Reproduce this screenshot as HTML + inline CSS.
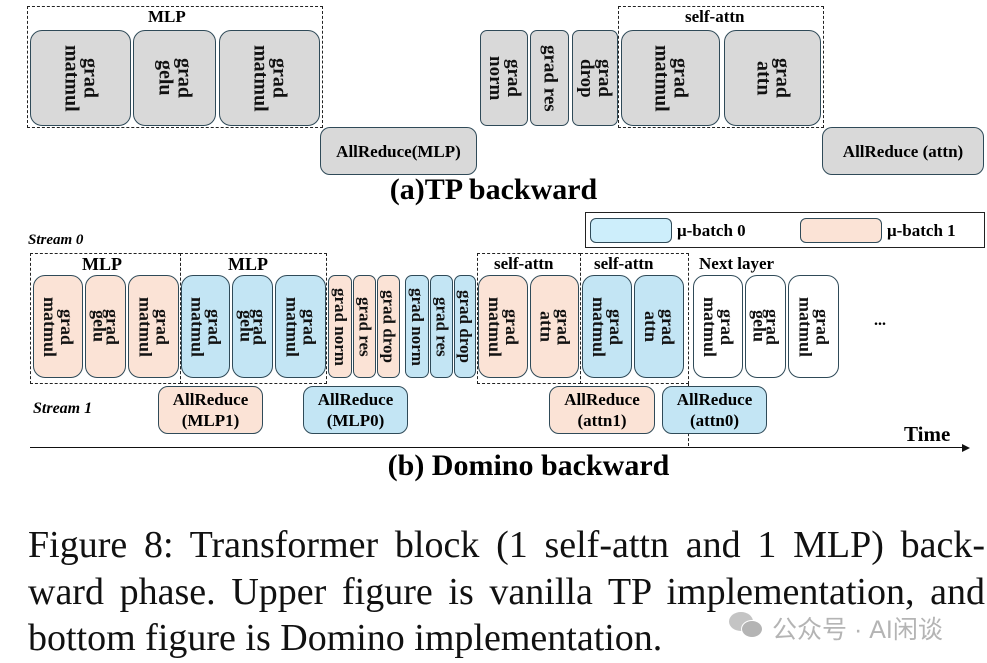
<!DOCTYPE html>
<html><head><meta charset="utf-8"><style>
body{margin:0;width:987px;height:663px;background:#fff;position:relative;overflow:hidden;font-family:"Liberation Serif",serif;}
.b{position:absolute;box-sizing:border-box;border:1.5px solid #2f4a58;border-radius:12px;writing-mode:vertical-rl;display:flex;align-items:center;justify-content:center;text-align:center;font-weight:bold;font-size:20px;line-height:19px;color:#111;}
.s{border-radius:7px;font-size:17px;line-height:16px;}
.h{position:absolute;box-sizing:border-box;border:1.5px solid #2f4a58;border-radius:10px;display:flex;align-items:center;justify-content:center;text-align:center;font-weight:bold;font-size:17px;line-height:21px;}
.g{background:#d9d9d9}.p{background:#fbe3d6}.c{background:#c3e5f4}.w{background:#fff}
.d{position:absolute;box-sizing:border-box;border:1.5px dashed #222;}
.t{position:absolute;font-weight:bold;white-space:nowrap;}
.cap{position:absolute;left:28px;width:957px;font-size:38px;line-height:46px;color:#111;white-space:nowrap;}
.j{text-align:justify;text-align-last:justify;white-space:normal;}
</style></head><body>
<!-- top -->
<div class="d" style="left:27px;top:6px;width:296px;height:122px"></div>
<div class="t" style="left:148px;top:7px;font-size:17px">MLP</div>
<div class="b g" style="left:30px;top:30px;width:101px;height:96px">grad<br>matmul</div>
<div class="b g" style="left:133px;top:30px;width:83px;height:96px">grad<br>gelu</div>
<div class="b g" style="left:219px;top:30px;width:101px;height:96px">grad<br>matmul</div>
<div class="h g" style="left:320px;top:127px;width:157px;height:48px">AllReduce(MLP)</div>
<div class="b g s" style="left:480px;top:30px;width:48px;height:96px;font-size:19px;line-height:18px">grad<br>norm</div>
<div class="b g s" style="left:530px;top:30px;width:39px;height:96px;font-size:19px">grad res</div>
<div class="b g s" style="left:572px;top:30px;width:46px;height:96px;font-size:19px;line-height:18px">grad<br>drop</div>
<div class="d" style="left:618px;top:6px;width:206px;height:122px"></div>
<div class="t" style="left:685px;top:7px;font-size:17px">self-attn</div>
<div class="b g" style="left:621px;top:30px;width:99px;height:96px">grad<br>matmul</div>
<div class="b g" style="left:724px;top:30px;width:97px;height:96px">grad<br>attn</div>
<div class="h g" style="left:822px;top:127px;width:162px;height:48px">AllReduce (attn)</div>
<div class="t" style="left:0;width:987px;text-align:center;top:173px;font-size:30px">(a)TP backward</div>
<!-- legend -->
<div style="position:absolute;left:585px;top:212px;width:400px;height:36px;box-sizing:border-box;border:1.5px solid #222"></div>
<div class="h" style="left:590px;top:218px;width:82px;height:25px;background:#cdeefb;border-radius:6px"></div>
<div class="t" style="left:677px;top:221px;font-size:17px">μ-batch 0</div>
<div class="h" style="left:800px;top:218px;width:82px;height:25px;background:#fbe3d6;border-radius:6px"></div>
<div class="t" style="left:887px;top:221px;font-size:17px">μ-batch 1</div>
<div class="t" style="left:28px;top:232px;font-size:15px;font-style:italic">Stream 0</div>
<!-- bottom -->
<div class="d" style="left:30px;top:253px;width:151px;height:131px"></div>
<div class="d" style="left:180px;top:253px;width:147px;height:131px"></div>
<div class="t" style="left:82px;top:254px;font-size:18px">MLP</div>
<div class="t" style="left:228px;top:254px;font-size:18px">MLP</div>
<div class="b p" style="left:33px;top:275px;width:50px;height:103px;font-size:18px;line-height:17px">grad<br>matmul</div>
<div class="b p" style="left:85px;top:275px;width:41px;height:103px;font-size:18px;line-height:13px">grad<br>gelu</div>
<div class="b p" style="left:128px;top:275px;width:51px;height:103px;font-size:18px;line-height:17px">grad<br>matmul</div>
<div class="b c" style="left:181px;top:275px;width:49px;height:103px;font-size:18px;line-height:17px">grad<br>matmul</div>
<div class="b c" style="left:232px;top:275px;width:41px;height:103px;font-size:18px;line-height:13px">grad<br>gelu</div>
<div class="b c" style="left:275px;top:275px;width:51px;height:103px;font-size:18px;line-height:17px">grad<br>matmul</div>
<div class="b p s" style="left:328px;top:275px;width:24px;height:103px">grad norm</div>
<div class="b p s" style="left:353px;top:275px;width:23px;height:103px">grad res</div>
<div class="b p s" style="left:377px;top:275px;width:23px;height:103px">grad drop</div>
<div class="b c s" style="left:405px;top:275px;width:24px;height:103px">grad norm</div>
<div class="b c s" style="left:430px;top:275px;width:23px;height:103px">grad res</div>
<div class="b c s" style="left:454px;top:275px;width:22px;height:103px">grad drop</div>
<div class="d" style="left:477px;top:253px;width:104px;height:131px"></div>
<div class="d" style="left:580px;top:253px;width:109px;height:131px"></div>
<div class="t" style="left:494px;top:254px;font-size:17px">self-attn</div>
<div class="t" style="left:594px;top:254px;font-size:17px">self-attn</div>
<div class="b p" style="left:478px;top:275px;width:50px;height:103px;font-size:18px;line-height:17px">grad<br>matmul</div>
<div class="b p" style="left:530px;top:275px;width:49px;height:103px;font-size:18px;line-height:17px">grad<br>attn</div>
<div class="b c" style="left:582px;top:275px;width:50px;height:103px;font-size:18px;line-height:17px">grad<br>matmul</div>
<div class="b c" style="left:634px;top:275px;width:50px;height:103px;font-size:18px;line-height:17px">grad<br>attn</div>
<div class="t" style="left:699px;top:254px;font-size:17px">Next layer</div>
<div class="b w" style="left:693px;top:275px;width:50px;height:103px;font-size:18px;line-height:17px">grad<br>matmul</div>
<div class="b w" style="left:745px;top:275px;width:41px;height:103px;font-size:18px;line-height:13px">grad<br>gelu</div>
<div class="b w" style="left:788px;top:275px;width:51px;height:103px;font-size:18px;line-height:17px">grad<br>matmul</div>
<div class="t" style="left:874px;top:312px;font-size:16px">...</div>
<div style="position:absolute;left:688px;top:384px;height:62px;border-left:1.5px dashed #222"></div>
<div class="t" style="left:33px;top:400px;font-size:16px;font-style:italic">Stream 1</div>
<div class="h p" style="left:158px;top:386px;width:105px;height:48px">AllReduce<br>(MLP1)</div>
<div class="h c" style="left:303px;top:386px;width:105px;height:48px">AllReduce<br>(MLP0)</div>
<div class="h p" style="left:549px;top:386px;width:106px;height:48px">AllReduce<br>(attn1)</div>
<div class="h c" style="left:662px;top:386px;width:105px;height:48px">AllReduce<br>(attn0)</div>
<div class="t" style="left:904px;top:422px;font-size:21px">Time</div>
<div style="position:absolute;left:30px;top:447px;width:934px;border-top:1.5px solid #111"></div>
<div style="position:absolute;left:962px;top:444px;width:0;height:0;border-left:8px solid #111;border-top:4px solid transparent;border-bottom:4px solid transparent"></div>
<div class="t" style="left:0;width:1057px;text-align:center;top:449px;font-size:30px">(b) Domino backward</div>
<!-- caption -->
<div class="cap j" style="top:522px;">Figure 8: Transformer block (1 self-attn and 1 MLP) back-</div>
<div class="cap j" style="top:569px;">ward phase. Upper figure is vanilla TP implementation, and</div>
<div class="cap" style="top:615px;">bottom figure is Domino implementation.</div>
<div style="position:absolute;left:729px;top:612px;width:36px;height:26px;">
<div style="position:absolute;left:0;top:0;width:24px;height:19px;border-radius:50%;background:#c4c4c4"></div>
<div style="position:absolute;left:12px;top:8px;width:20px;height:16px;border-radius:50%;background:#b4b4b4;border:1.5px solid #fff"></div></div>
<div style="position:absolute;left:772px;top:610px;font-family:'Liberation Sans','Noto Sans CJK SC',sans-serif;font-size:25px;color:#b4b4b4;white-space:nowrap">公众号 · AI闲谈</div>
</body></html>
